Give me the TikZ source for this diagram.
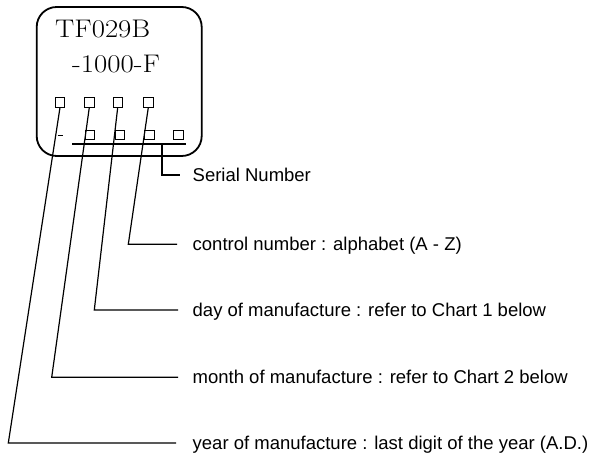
\documentclass[tikz,border=0pt]{standalone}
\usepackage{fontspec}
\newfontfamily\lab{Liberation Sans}
\begin{document}
\begin{tikzpicture}[x=1pt,y=-1pt,
  sq/.style={draw,line width=0.9pt,minimum size=9.5pt,inner sep=0pt},
  lead/.style={line width=1.2pt},
  ttl/.style={anchor=base west,inner sep=0pt,font=\fontsize{25.5}{28}\selectfont},
  lbl/.style={anchor=base west,inner sep=0pt,font=\lab\fontsize{18.5}{20}\selectfont}]
\useasboundingbox (0,0) rectangle (596,454);
\draw[line width=1.8pt,rounded corners=20pt] (36.7,7) rectangle (201.7,156);
\node[ttl] (t1) at (55,37.3) {\scalebox{1.13}[1]{TF029B}};
\node[ttl] (t2) at (72,72.7) {\scalebox{1.13}[1]{-1000-F}};
% top row
\node[sq] (a1) at (60,102.3) {};
\node[sq] (a2) at (89.3,102.3) {};
\node[sq] (a3) at (117.7,102.3) {};
\node[sq] (a4) at (148.3,102.3) {};
% bottom row
\node[sq] (b1) at (90,135) {};
\node[sq] (b2) at (120,135) {};
\node[sq] (b3) at (149.3,135) {};
\node[sq] (b4) at (178.3,135) {};
\draw[line width=1pt] (57.7,136) -- (63.3,136);
\coordinate (u1) at (72,144);
\coordinate (u2) at (186,144);
\draw[lead] (u1) -- (u2);
% serial
\coordinate (s0) at (162,144);
\coordinate (s1) at (162,175);
\coordinate (s2) at (180,175);
\draw[lead] (s0) -- (s1) -- (s2);
\node[lbl] (ls) at (192.5,181.5) {Serial Number};
% control
\coordinate (c1) at (128.3,244.3);
\coordinate (c2) at (177,244.3);
\draw[lead] (a4.south) -- (c1) -- (c2);
\node[lbl] (lc) at (192.5,250.8) {control number : alphabet (A - Z)};
% day
\coordinate (d1) at (94.3,310);
\coordinate (d2) at (178,310);
\draw[lead] (a3.south) -- (d1) -- (d2);
\node[lbl] (ld) at (192.5,316.5) {day of manufacture : refer to Chart 1 below};
% month
\coordinate (m1) at (51.7,377.3);
\coordinate (m2) at (178,377.3);
\draw[lead] (a2.south) -- (m1) -- (m2);
\node[lbl] (lm) at (192.5,383.8) {month of manufacture : refer to Chart 2 below};
% year
\coordinate (y1) at (8.3,443);
\coordinate (y2) at (176,443);
\draw[lead] (a1.south) -- (y1) -- (y2);
\node[lbl] (ly) at (192.5,449.5) {year of manufacture : last digit of the year (A.D.)};
\end{tikzpicture}
\end{document}
